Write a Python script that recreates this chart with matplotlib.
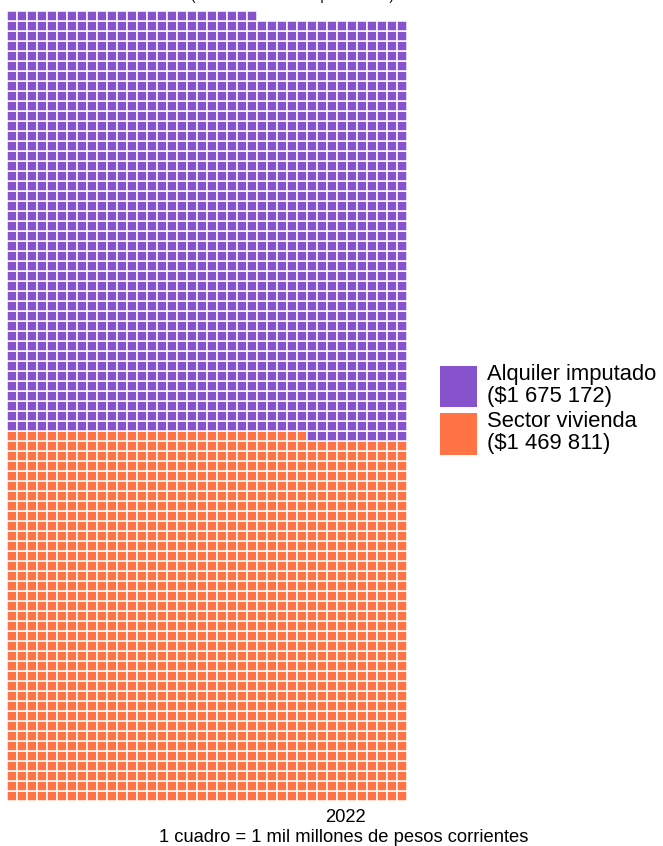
import numpy as np
import matplotlib
matplotlib.use("Agg")
import matplotlib.pyplot as plt
from matplotlib.patches import Patch

plt.rcParams['font.family'] = ['Liberation Sans', 'DejaVu Sans']

# valores en millones de pesos, 1 cuadro = 1 mil millones
categorias = ["Sector vivienda", "Alquiler imputado"]
valores = [1469811, 1675172]
etiquetas = ["Sector vivienda\n($1 469 811)", "Alquiler imputado\n($1 675 172)"]
colores = ["#FF7344", "#8753CC"]
anio = "2022"
n_cols = 40

cuadros = [int(round(v / 1000)) for v in valores]

fig = plt.figure(figsize=(6.63, 8.46), dpi=100)
ax = fig.add_axes([6.7 / 663, 45 / 846, 400 / 663, 790 / 846])

inicio = 0
for n, col in zip(cuadros, colores):
    idx = np.arange(inicio, inicio + n)
    ax.bar(idx % n_cols, 1, bottom=idx // n_cols, width=1, align='edge',
           color=col, edgecolor='white', linewidth=1.1)
    inicio += n

n_rows = int(np.ceil(sum(cuadros) / n_cols))
ax.set_xlim(0, n_cols)
ax.set_ylim(0, n_rows)
ax.axis('off')

# leyenda (purpura primero)
handles = [Patch(facecolor=colores[1]), Patch(facecolor=colores[0])]
leg = fig.legend(handles, [etiquetas[1], etiquetas[0]], loc='upper left',
                 bbox_to_anchor=(440 / 663, 1 - 364 / 846), frameon=False,
                 fontsize=15.8, handlelength=1.68, handleheight=2.53,
                 handletextpad=0.45, labelspacing=0.17, borderpad=0,
                 borderaxespad=0)
for t in leg.get_texts():
    t.set_linespacing(1.05)

fig.text(345 / 663, 1 - 822 / 846, anio, ha='center', va='baseline', fontsize=13.2)
fig.text(344 / 663, 1 - 842 / 846, "1 cuadro = 1 mil millones de pesos corrientes",
         ha='center', va='baseline', fontsize=13.2)

# titulo cortado en el borde superior
fig.text(292 / 663, 1.0, "(Miles de millones de pesos 2022)", ha='center',
         va='baseline', fontsize=9.6)

fig.savefig("out.png", dpi=100)
